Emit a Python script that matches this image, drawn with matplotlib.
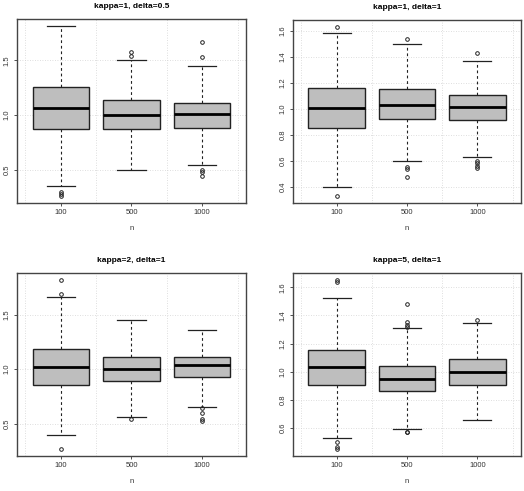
import matplotlib
matplotlib.use("Agg")
import matplotlib.pyplot as plt
import numpy as np

# ---- data (one panel per setting) ----
groups = ["100", "500", "1000"]
titles = ["kappa=1, delta=0.5", "kappa=1, delta=1", "kappa=2, delta=1", "kappa=5, delta=1"]

# each row: (lower whisker, Q1, median, Q3, upper whisker)
p1_stats = [(0.351, 0.875, 1.064, 1.256, 1.814),
            (0.503, 0.875, 1.006, 1.137, 1.500),
            (0.546, 0.887, 1.015, 1.113, 1.445)]
p1_fliers = [[0.296, 0.280, 0.262], [1.579, 1.540], [1.668, 1.534, 0.497, 0.482, 0.448]]

p2_stats = [(0.402, 0.854, 1.005, 1.159, 1.583),
            (0.604, 0.921, 1.028, 1.151, 1.499),
            (0.629, 0.916, 1.013, 1.110, 1.368)]
p2_fliers = [[1.632, 0.330], [1.535, 0.552, 0.540, 0.481], [1.427, 0.598, 0.583, 0.565, 0.550]]

p3_stats = [(0.398, 0.859, 1.024, 1.183, 1.664),
            (0.560, 0.893, 1.000, 1.116, 1.453),
            (0.651, 0.927, 1.037, 1.113, 1.361)]
p3_fliers = [[1.820, 1.694, 0.266], [0.541], [0.642, 0.602, 0.541, 0.526]]

p4_stats = [(0.534, 0.905, 1.031, 1.154, 1.523),
            (0.591, 0.862, 0.948, 1.043, 1.314),
            (0.660, 0.910, 1.000, 1.088, 1.347)]
p4_fliers = [[1.653, 1.639, 0.504, 0.470, 0.451], [1.482, 1.352, 1.335, 1.321, 0.575, 0.570], [1.368]]

p1_yticks = [0.5, 1.0, 1.5]
p2_yticks = [0.4, 0.6, 0.8, 1.0, 1.2, 1.4, 1.6]
p3_yticks = [0.5, 1.0, 1.5]
p4_yticks = [0.6, 0.8, 1.0, 1.2, 1.4, 1.6]

panels = [
    (p1_stats, p1_fliers, p1_yticks),
    (p2_stats, p2_fliers, p2_yticks),
    (p3_stats, p3_fliers, p3_yticks),
    (p4_stats, p4_fliers, p4_yticks),
]

# axes rectangles in figure fractions (left, bottom, width, height)
W, H = 524, 491
rects = [
    (17 / W, 1 - 203 / H, 229 / W, 184 / H),
    (293 / W, 1 - 203 / H, 228 / W, 183 / H),
    (17 / W, 1 - 456 / H, 229 / W, 183 / H),
    (293 / W, 1 - 456 / H, 228 / W, 183 / H),
]

plt.rcParams["font.family"] = ["Liberation Sans", "DejaVu Sans"]
fig = plt.figure(figsize=(W / 100, H / 100), dpi=100)

edge = "#222222"
for (stats, fliers, yticks), rect, title in zip(panels, rects, titles):
    ax = fig.add_axes(rect)
    bxp_stats = []
    for (wl, q1, med, q3, wh), fl in zip(stats, fliers):
        bxp_stats.append(dict(whislo=wl, q1=q1, med=med, q3=q3, whishi=wh, fliers=fl))
    ax.bxp(
        bxp_stats,
        positions=[1, 2, 3],
        widths=0.8,
        patch_artist=True,
        boxprops=dict(facecolor="#BEBEBE", edgecolor=edge, linewidth=1.0),
        medianprops=dict(color="black", linewidth=2.0),
        whiskerprops=dict(color=edge, linewidth=0.8, linestyle=(0, (2.5, 2.5))),
        capprops=dict(color=edge, linewidth=0.9),
        capwidths=0.4,
        flierprops=dict(marker="o", markersize=2.6, markerfacecolor="none",
                        markeredgecolor=edge, markeredgewidth=0.7, linestyle="none"),
        zorder=3,
    )

    # R-style ranges: extend data range by 4% on each side
    allv = [v for s in stats for v in s] + [v for f in fliers for v in f]
    lo, hi = min(allv), max(allv)
    pad = 0.04 * (hi - lo)
    ax.set_ylim(lo - pad, hi + pad)
    ax.set_xlim(0.38, 3.62)

    ax.set_xticks([1, 2, 3])
    ax.set_xticklabels(groups)
    ax.set_xticks([0.5, 1.5, 2.5, 3.5], minor=True)
    ax.set_yticks(yticks)
    ax.set_yticklabels([f"{t:.1f}" for t in yticks], rotation=90, va="center")

    ax.grid(True, which="minor", axis="x", color="#d3d3d3", linestyle=(0, (1, 2)), linewidth=0.6, zorder=0)
    ax.grid(True, which="major", axis="y", color="#d3d3d3", linestyle=(0, (1, 2)), linewidth=0.6, zorder=0)

    ax.tick_params(axis="both", which="major", labelsize=5.5, length=2.5, width=0.6,
                   color="#333333", labelcolor="#333333", pad=2)
    ax.tick_params(axis="both", which="minor", length=0)
    for sp in ax.spines.values():
        sp.set_linewidth(1.0)
        sp.set_color("#444444")

    ax.set_xlabel("n", fontsize=5.5, color="#333333", labelpad=6)
    ax.set_title(title, fontsize=6, fontweight="bold", pad=8)

plt.savefig("out.png", dpi=100)
